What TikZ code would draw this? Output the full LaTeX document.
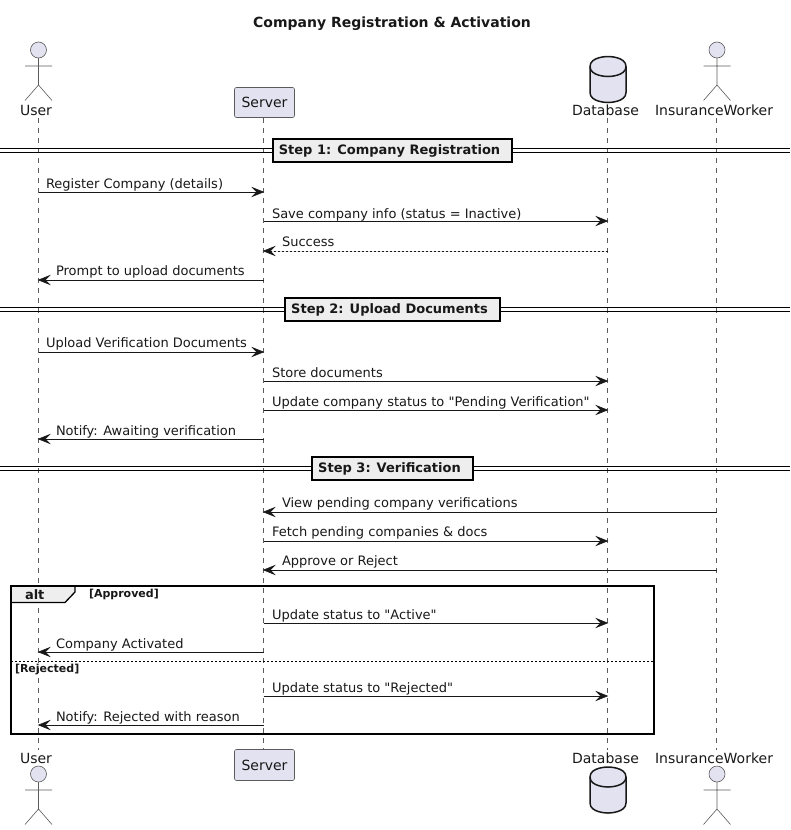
\documentclass[tikz,border=0pt]{standalone}
\usepackage{fontspec}
\setmainfont[Ligatures=TeXOff]{DejaVu Sans}
\usetikzlibrary{arrows.meta}
\definecolor{partfill}{HTML}{E2E2F0}
\definecolor{partline}{HTML}{5B5B5B}
\definecolor{secfill}{HTML}{EEEEEE}
\definecolor{ink}{HTML}{181818}
\pgfdeclarearrow{
  name=seqtip,
  parameters={\the\pgfarrowlength},
  setup code={\pgfarrowssettipend{0pt}\pgfarrowssetbackend{-\pgfarrowlength}\pgfarrowssetlineend{-0.3\pgfarrowlength}\pgfarrowssavethe\pgfarrowlength},
  drawing code={
    \pgfsetlinewidth{0.6pt}
    \pgfsetdash{}{0pt}
    \pgfpathmoveto{\pgfqpoint{0pt}{0pt}}
    \pgfpathlineto{\pgfqpoint{-\pgfarrowlength}{0.4\pgfarrowlength}}
    \pgfpathlineto{\pgfqpoint{-0.6\pgfarrowlength}{0pt}}
    \pgfpathlineto{\pgfqpoint{-\pgfarrowlength}{-0.4\pgfarrowlength}}
    \pgfpathclose
    \pgfusepathqfillstroke
  },
  defaults={length=11pt}
}
\tikzset{
  x=1pt,y=-1pt,
  every node/.style={inner sep=0pt,outer sep=0pt,text=ink,font=\fontsize{13}{15}\selectfont},
  lifeline/.style={draw=partline,line width=0.6pt,dash pattern=on 5pt off 5pt},
  msg/.style={draw=ink,line width=1pt,-{seqtip},fill=ink},
  ret/.style={msg,dash pattern=on 2pt off 2pt},
  msgtext/.style={anchor=base west},
  partlabel/.style={font=\fontsize{14}{16}\selectfont},
  actorhead/.style={circle,draw=partline,fill=partfill,line width=0.6pt,minimum size=16pt},
  actorbody/.style={draw=partline,line width=0.6pt},
  partbox/.style={draw=partline,fill=partfill,line width=0.6pt,rounded corners=2pt,minimum width=60pt,minimum height=30pt,font=\fontsize{14}{16}\selectfont},
  dbshape/.style={draw=ink,line width=1.5pt},
  secbox/.style={draw=black,fill=secfill,line width=2pt,minimum height=23pt,font=\fontsize{13}{15}\selectfont\bfseries},
  secline/.style={draw=black,line width=1pt},
  framebox/.style={draw=black,line width=2pt},
  guard/.style={font=\fontsize{11}{13}\selectfont\bfseries,anchor=base west},
}
\newcommand{\actorfig}[2]{%
  \node[actorhead] (#2h) at (#1) {};
  \draw[actorbody] (#2h.south) -- ++(0,27) coordinate (#2c) -- ++(-13.5,15.5) (#2c) -- ++(13.5,15.5)
    (#2h.south) ++(-13.5,8) -- ++(27,0);
}
\newcommand{\dbfig}[1]{%
  \begin{scope}[shift={(#1)}]
    \path[dbshape,fill=partfill] (-18,10) .. controls (-18,0) and (0,0) .. (0,0)
      .. controls (0,0) and (18,0) .. (18,10) -- (18,36)
      .. controls (18,46) and (0,46) .. (0,46) .. controls (0,46) and (-18,46) .. (-18,36) -- cycle;
    \path[dbshape] (-18,10) .. controls (-18,20) and (0,20) .. (0,20) .. controls (0,20) and (18,20) .. (18,10);
  \end{scope}
}
\begin{document}
\begin{tikzpicture}
\useasboundingbox (0,0) rectangle (790,830);
\node[font=\fontsize{14}{16}\selectfont\bfseries] (title) at (392,24) {Company Registration \& Activation};

% lifeline coordinates
\coordinate (lu) at (38.5,118);
\coordinate (ls) at (263.5,118);
\coordinate (ld) at (607.5,118);
\coordinate (lw) at (716.5,118);
\coordinate (eu) at (38.5,750);
\coordinate (es) at (263.5,750);
\coordinate (ed) at (607.5,750);
\coordinate (ew) at (716.5,750);
\draw[lifeline] (lu) -- (eu);
\draw[lifeline] (ls) -- (es);
\draw[lifeline] (ld) -- (ed);
\draw[lifeline] (lw) -- (ew);

% top participants
\actorfig{38.5,50}{ut}
\node[partlabel] (userT) at (36,110) {User};
\node[partbox] (serverT) at (264.5,102.5) {Server};
\dbfig{608,56.5}
\node[partlabel] (dbT) at (605.5,110) {Database};
\actorfig{717,50}{wt}
\node[partlabel] (workerT) at (714,110) {InsuranceWorker};

% bottom participants
\node[partlabel] (userB) at (36,758) {User};
\actorfig{38.5,774}{ub}
\node[partbox,minimum height=31pt] (serverB) at (264.5,765) {Server};
\node[partlabel] (dbB) at (605.5,758) {Database};
\dbfig{608,767}
\node[partlabel] (workerB) at (714,758) {InsuranceWorker};
\actorfig{717,774}{wb}

% dividers
\foreach \nm/\yy/\ww/\tx in {a/150.5/239/{Step 1: Company Registration},b/309.5/215/{Step 2: Upload Documents},c/468.5/161/{Step 3: Verification}}{
  \draw[secline] (0,\yy-1.7) -- (790,\yy-1.7);
  \draw[secline] (0,\yy+1.7) -- (790,\yy+1.7);
  \node[secbox,minimum width=\ww pt] (sec\nm) at (392.5,\yy) {\tx\hspace*{6pt}\null};
}

% messages
\draw[msg] (lu |- 0,192) -- (ls |- 0,192);
\node[msgtext] (t1) at (46,188) {Register Company (details)};
\draw[msg] (ls |- 0,221) -- (ld |- 0,221);
\node[msgtext] (t2) at (272,218) {Save company info (status = Inactive)};
\draw[ret] (ld |- 0,251) -- (ls |- 0,251);
\node[msgtext] (t3) at (282,246) {Success};
\draw[msg] (ls |- 0,280) -- (lu |- 0,280);
\node[msgtext] (t4) at (56,275) {Prompt to upload documents};

\draw[msg] (lu |- 0,352) -- (ls |- 0,352);
\node[msgtext] (t5) at (46,347) {Upload Verification Documents};
\draw[msg] (ls |- 0,381) -- (ld |- 0,381);
\node[msgtext] (t6) at (272,377) {Store documents};
\draw[msg] (ls |- 0,410) -- (ld |- 0,410);
\node[msgtext] (t7) at (272,406) {Update company status to "Pending Verification"};
\draw[msg] (ls |- 0,439) -- (lu |- 0,439);
\node[msgtext] (t8) at (56,435) {Notify: Awaiting verification};

\draw[msg] (lw |- 0,512) -- (ls |- 0,512);
\node[msgtext] (t9) at (282,507) {View pending company verifications};
\draw[msg] (ls |- 0,541) -- (ld |- 0,541);
\node[msgtext] (t10) at (272,536) {Fetch pending companies \& docs};
\draw[msg] (lw |- 0,570) -- (ls |- 0,570);
\node[msgtext] (t11) at (282,565) {Approve or Reject};

% alt frame
\path[draw=black,fill=secfill,line width=1.3pt] (11,586) -- (75,586) -- (75,592) -- (65,602.5) -- (11,602.5) -- cycle;
\draw[framebox] (11,586) rectangle (654,733.5);
\node[font=\fontsize{13}{15}\selectfont\bfseries,anchor=base west] (alt) at (25,599) {alt};
\node[guard] (g1) at (89,597) {[Approved]};
\draw[draw=black,line width=0.8pt,dash pattern=on 2pt off 2pt] (11,661) -- (654,661);
\node[guard] (g2) at (15,672) {[Rejected]};

\draw[msg] (ls |- 0,623) -- (ld |- 0,623);
\node[msgtext] (t12) at (272,619) {Update status to "Active"};
\draw[msg] (ls |- 0,652) -- (lu |- 0,652);
\node[msgtext] (t13) at (56,648) {Company Activated};
\draw[msg] (ls |- 0,696) -- (ld |- 0,696);
\node[msgtext] (t14) at (272,692) {Update status to "Rejected"};
\draw[msg] (ls |- 0,725) -- (lu |- 0,725);
\node[msgtext] (t15) at (56,721) {Notify: Rejected with reason};
\end{tikzpicture}
\end{document}
